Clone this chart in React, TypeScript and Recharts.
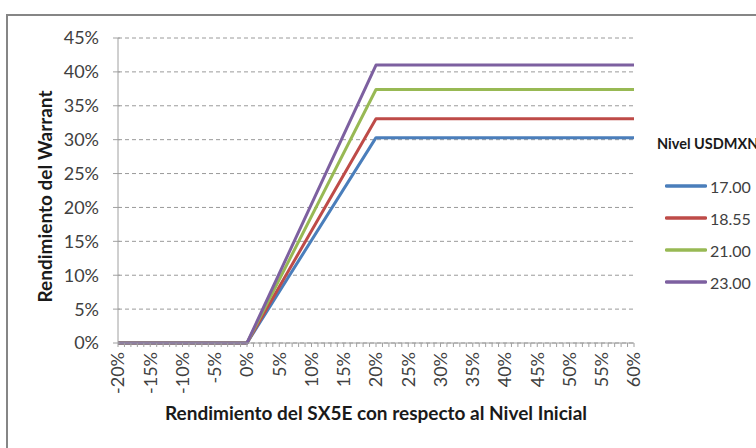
import React from "react";
import { LineChart, Line, XAxis, YAxis, CartesianGrid, Legend } from "recharts";

// SX5E return vs warrant return, one line per USDMXN level (kink points)
const sx5eReturn = [-20, 0, 20, 60];
const warrant1700 = [0, 0, 30.3, 30.3];
const warrant1855 = [0, 0, 33.1, 33.1];
const warrant2100 = [0, 0, 37.4, 37.4];
const warrant2300 = [0, 0, 41.0, 41.0];

const levelNames = ["17.00", "18.55", "21.00", "23.00"];
const levelColors = ["#4A7EBB", "#BE4B48", "#98B954", "#7D60A0"];

const yTicks = [0, 5, 10, 15, 20, 25, 30, 35, 40, 45];
const xLabelTicks = [-20, -15, -10, -5, 0, 5, 10, 15, 20, 25, 30, 35, 40, 45, 50, 55, 60];
// one minor tick per category step of 1%
const xAllTicks = Array.from({ length: 81 }, (_, i) => i - 20);

const seriesKeys = ["l1700", "l1855", "l2100", "l2300"];
const data = sx5eReturn.map((r, i) => ({
  r,
  l1700: warrant1700[i],
  l1855: warrant1855[i],
  l2100: warrant2100[i],
  l2300: warrant2300[i],
}));

const FONT = "Lato, 'Noto Sans', sans-serif";
const AXIS_GRAY = "#A0A0A0";
const TEXT = "#404040";

const XTick = (props: any) => {
  const { x, y, payload } = props;
  const v = payload.value;
  const labeled = xLabelTicks.includes(v);
  return (
    <g>
      <line x1={x} y1={y} x2={x} y2={y + 4} stroke={AXIS_GRAY} strokeWidth={1} />
      {labeled && (
        <text
          x={x}
          y={y + 9}
          transform={`rotate(-90, ${x}, ${y + 9})`}
          textAnchor="end"
          dy="0.36em"
          fontSize={18}
          fontFamily={FONT}
          fill={TEXT}
        >
          {`${v}%`}
        </text>
      )}
    </g>
  );
};

const YTick = (props: any) => {
  const { x, y, payload } = props;
  return (
    <g>
      <line x1={x - 5} y1={y} x2={x + 2} y2={y} stroke={AXIS_GRAY} strokeWidth={1} />
      <text x={x - 19} y={y} dy="0.36em" textAnchor="end" fontSize={18} fontFamily={FONT} fill={TEXT}>
        {`${payload.value}%`}
      </text>
    </g>
  );
};

const LegendBox = () => (
  <div style={{ position: "relative", width: 116, height: 170, fontFamily: FONT }}>
    <div
      style={{
        position: "absolute",
        left: 17,
        top: 4,
        lineHeight: "20px",
        fontSize: 14.5,
        fontWeight: 700,
        color: "#1a1a1a",
        whiteSpace: "nowrap",
      }}
    >
      Nivel USDMXN
    </div>
    {levelNames.map((name, i) => (
      <div
        key={name}
        style={{ position: "absolute", left: 25, top: 46 + i * 32, height: 20, display: "flex", alignItems: "center" }}
      >
        <svg width={42} height={4} style={{ display: "block" }}>
          <line x1={1.5} y1={2} x2={40.5} y2={2} stroke={levelColors[i]} strokeWidth={3.5} strokeLinecap="round" />
        </svg>
        <span style={{ marginLeft: 3, fontSize: 16, color: TEXT, whiteSpace: "nowrap" }}>{name}</span>
      </div>
    ))}
  </div>
);

export default function App() {
  return (
    <div
      style={{
        position: "absolute",
        left: 0,
        top: 0,
        width: 756,
        height: 448,
        overflow: "hidden",
        background: "#fff",
      }}
    >
      <div
        style={{
          position: "absolute",
          left: 6,
          top: 14,
          width: 820,
          height: 520,
          border: "2px solid #868686",
        }}
      />
      <div style={{ position: "absolute", left: 0, top: 0 }}>
        <LineChart width={756} height={448} data={data} margin={{ top: 38, right: 122, bottom: 45, left: 58 }}>
          <CartesianGrid vertical={false} stroke="#9A9A9A" strokeDasharray="4 3" />
          <XAxis
            dataKey="r"
            type="number"
            domain={[-20, 60]}
            ticks={xAllTicks}
            interval={0}
            height={60}
            tickSize={0}
            tickMargin={0}
            tickLine={false}
            axisLine={{ stroke: AXIS_GRAY }}
            tick={<XTick />}
            label={{
              value: "Rendimiento del SX5E con respecto al Nivel Inicial",
              position: "bottom",
              offset: 4,
              style: { fontFamily: FONT, fontSize: 19, fontWeight: 700, fill: "#1a1a1a" },
            }}
          />
          <YAxis
            type="number"
            domain={[0, 45]}
            ticks={yTicks}
            interval={0}
            width={60}
            tickSize={0}
            tickMargin={0}
            tickLine={false}
            axisLine={{ stroke: AXIS_GRAY }}
            tick={<YTick />}
            label={{
              value: "Rendimiento del Warrant",
              angle: -90,
              position: "left",
              offset: 13,
              dy: 6,
              style: { textAnchor: "middle", fontFamily: FONT, fontSize: 19, fontWeight: 700, fill: "#1a1a1a" },
            }}
          />
          <Legend
            layout="horizontal"
            verticalAlign="middle"
            align="center"
            content={<LegendBox />}
            wrapperStyle={{ left: 640, top: 130, width: 116, height: 170 }}
          />
          {seriesKeys.map((k, i) => (
            <Line
              key={k}
              dataKey={k}
              name={levelNames[i]}
              type="linear"
              stroke={levelColors[i]}
              strokeWidth={3}
              strokeLinejoin="round"
              dot={false}
              activeDot={false}
              isAnimationActive={false}
            />
          ))}
        </LineChart>
      </div>
    </div>
  );
}
